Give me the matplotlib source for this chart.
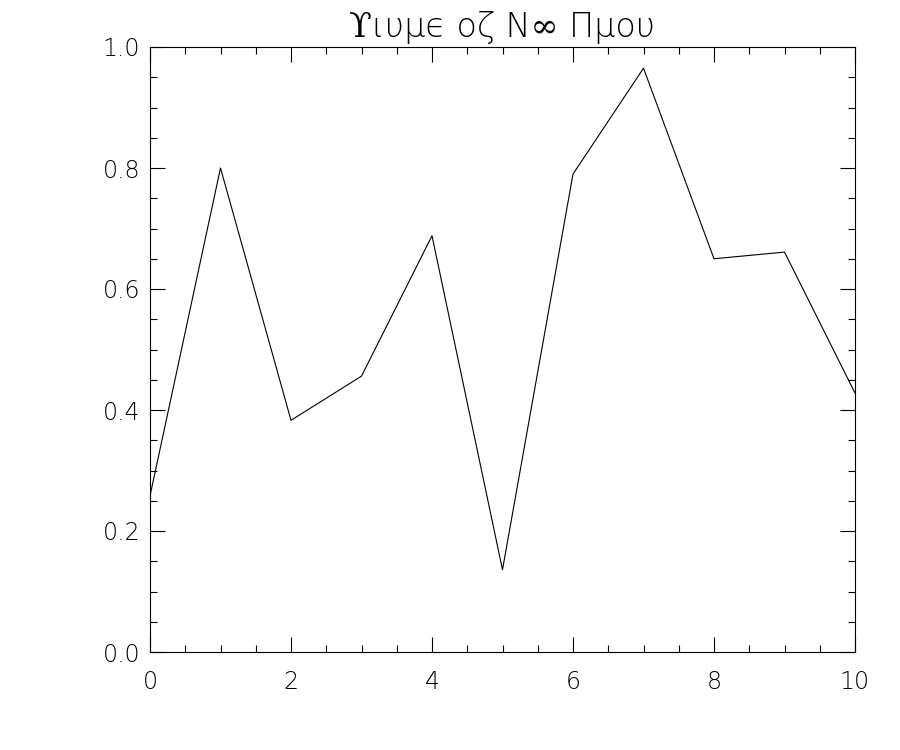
import matplotlib
matplotlib.use("Agg")
import matplotlib.pyplot as plt
from matplotlib.ticker import MultipleLocator

# values
x_vals = [0, 1, 2, 3, 4, 5, 6, 7, 8, 9, 10]
y_vals = [0.258, 0.800, 0.383, 0.456, 0.688, 0.136, 0.790, 0.965, 0.650, 0.661, 0.428]
x_ticks = [0, 2, 4, 6, 8, 10]
y_ticks = [0.0, 0.2, 0.4, 0.6, 0.8, 1.0]
TITLE = "ϒιυμϵ οζ Ν∞ Πμου"

plt.rcParams['font.family'] = ['DejaVu Sans', 'DejaVu Serif', 'Noto Sans']

fig = plt.figure(figsize=(9, 7.5), dpi=100)
ax = fig.add_axes([150/900, 98/750, 705/900, 605/750])

ax.plot(x_vals, y_vals, color='black', linewidth=0.8)

ax.set_xlim(0, 10)
ax.set_ylim(0, 1)
ax.set_xticks(x_ticks)
ax.set_yticks(y_ticks)
ax.set_yticklabels(["{:.1f}".format(v) for v in y_ticks])
ax.xaxis.set_minor_locator(MultipleLocator(0.5))
ax.yaxis.set_minor_locator(MultipleLocator(0.05))

ax.tick_params(which='both', direction='in', top=True, right=True,
               width=0.8, labelsize=17, color='black')
ax.tick_params(which='major', length=11)
ax.tick_params(which='minor', length=5)
ax.tick_params(axis='x', which='major', pad=13)
ax.tick_params(axis='y', which='major', pad=7)
for lab in ax.get_xticklabels() + ax.get_yticklabels():
    lab.set_fontweight('light')

for s in ax.spines.values():
    s.set_linewidth(0.8)

ax.set_title(TITLE, fontsize=24, pad=7, fontweight='light',
             family=['DejaVu Sans', 'DejaVu Serif', 'Noto Sans'])

fig.savefig("out.png", dpi=100)
